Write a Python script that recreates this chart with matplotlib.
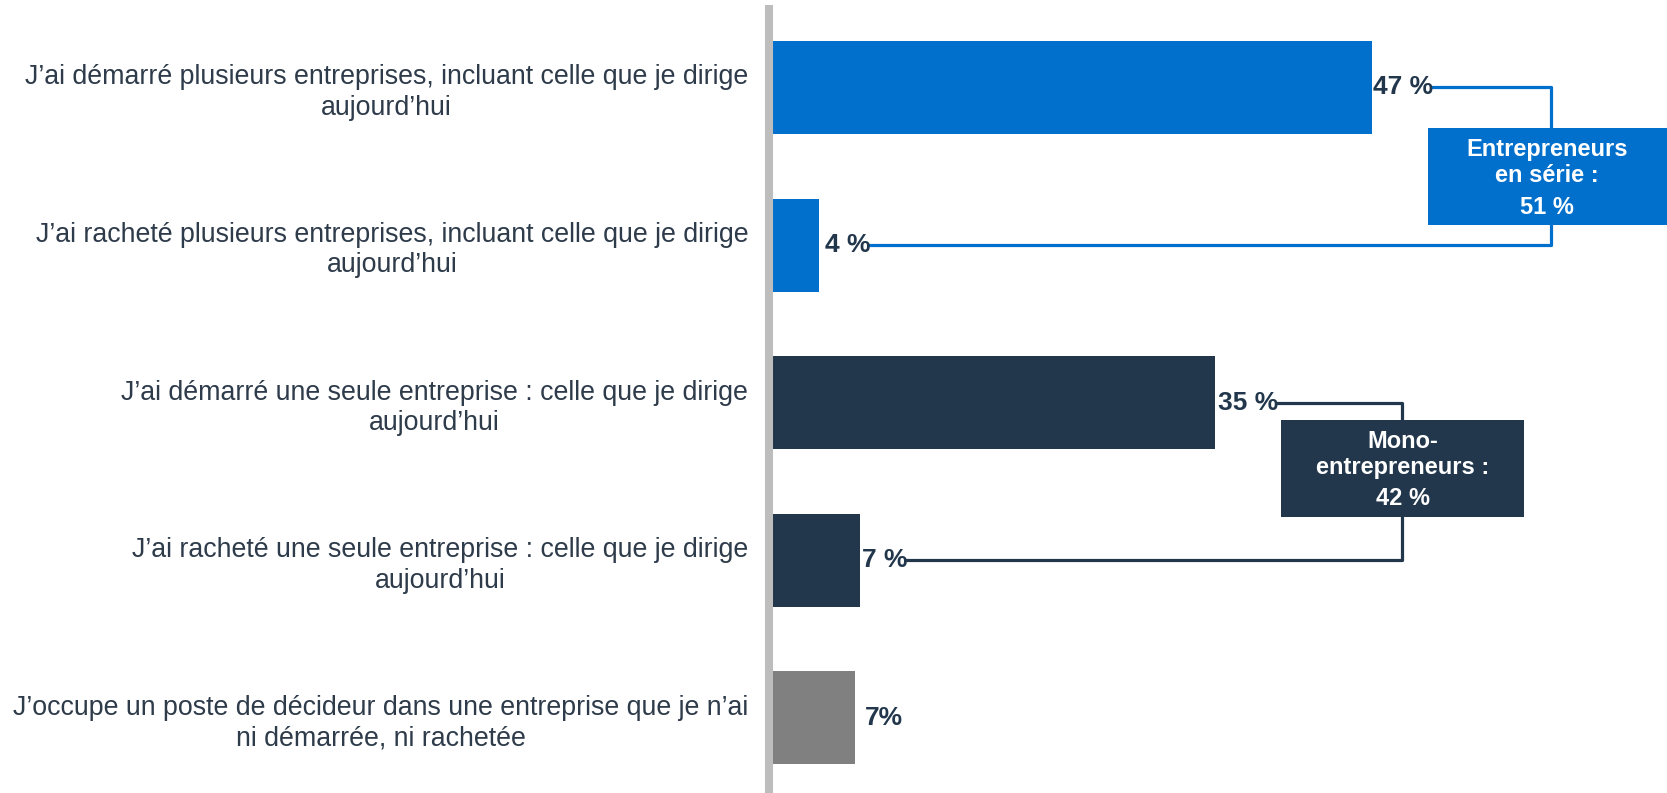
import matplotlib
matplotlib.use("Agg")
import matplotlib.pyplot as plt
from matplotlib.patches import Rectangle

plt.rcParams['font.family'] = ['Liberation Sans', 'DejaVu Sans']

# -----------------------
# Data
# -----------------------
categories = [
    "J\u2019ai démarré plusieurs entreprises, incluant celle que je dirige\naujourd\u2019hui",
    "J\u2019ai racheté plusieurs entreprises, incluant celle que je dirige\naujourd\u2019hui",
    "J\u2019ai démarré une seule entreprise : celle que je dirige\naujourd\u2019hui",
    "J\u2019ai racheté une seule entreprise : celle que je dirige\naujourd\u2019hui",
    "J\u2019occupe un poste de décideur dans une entreprise que je n\u2019ai\nni démarrée, ni rachetée",
]
values = [47.0, 3.6, 34.7, 6.8, 6.4]
value_labels = ["47 %", "4 %", "35 %", "7 %", "7%"]
group = ["serial", "serial", "mono", "mono", "other"]

group_title = {"serial": "Entrepreneurs\nen série :", "mono": "Mono-\nentrepreneurs :"}
group_total = {"serial": "51 %", "mono": "42 %"}

# -----------------------
# Styles
# -----------------------
BLUE = "#0070CC"
NAVY = "#22374C"
GREY = "#808080"
TEXT = "#2E3B4A"
colors = {"serial": BLUE, "mono": NAVY, "other": GREY}

# bracket x (data units), box extents (x0, x1, y0, y1), text y for title / total
bracket_x = {"serial": 61.1, "mono": 49.4}
box_ext = {"serial": (51.4, 70.5, 0.257, 0.872), "mono": (39.9, 59.0, 2.11, 2.725)}
text_y = {"serial": (0.475, 0.76), "mono": (2.33, 2.61)}
label_gap = [1, 6, 3, 2, 10]   # px gap between bar end and value label

W, H = 1667, 793
fig = plt.figure(figsize=(W / 100, H / 100), dpi=100)
ax = fig.add_axes([773 / W, 0, 1 - 773 / W, 1])

ypos = list(range(len(values)))
ax.barh(ypos, values, height=0.59, color=[colors[g] for g in group], zorder=2)

ax.set_xlim(0, 70.2)
ax.set_ylim(4.477, -0.555)

for s in ["top", "right", "bottom"]:
    ax.spines[s].set_visible(False)
ax.spines["left"].set_color("#BDBDBD")
ax.spines["left"].set_linewidth(5.8)
ax.spines["left"].set_position(("outward", 2.9))
ax.spines["left"].set_bounds(4.477, -0.498)
ax.set_xticks([])
ax.set_yticks(ypos)
ax.set_yticklabels(categories, fontsize=19.3, color=TEXT, multialignment="center",
                   linespacing=1.22)
ax.tick_params(axis="y", length=0, pad=15)

# value labels
val_texts = []
for y, v, lab, gap in zip(ypos, values, value_labels, label_gap):
    t = ax.annotate(lab, (v, y), xytext=(gap * 0.72, 0), textcoords="offset points",
                    ha="left", va="center", fontsize=19, fontweight="bold",
                    color=NAVY, zorder=3)
    val_texts.append(t)

fig.canvas.draw()
renderer = fig.canvas.get_renderer()
inv = ax.transData.inverted()

# brackets + summary boxes
for g in ["serial", "mono"]:
    idx = [i for i, gg in enumerate(group) if gg == g]
    i1, i2 = idx[0], idx[-1]
    bb1 = val_texts[i1].get_window_extent(renderer)
    bb2 = val_texts[i2].get_window_extent(renderer)
    x1 = inv.transform((bb1.x1, 0))[0]
    x2 = inv.transform((bb2.x1, 0))[0]
    bx = bracket_x[g]
    ax.plot([x1, bx, bx, x2], [i1, i1, i2, i2], color=colors[g], lw=2.3,
            solid_joinstyle="round", zorder=1, clip_on=False)
    x0, xe, y0, ye = box_ext[g]
    ax.add_patch(Rectangle((x0, y0), xe - x0, ye - y0, facecolor=colors[g],
                           edgecolor="none", zorder=4, clip_on=False))
    cx = (x0 + min(xe, 70.2)) / 2
    ax.text(cx, text_y[g][0], group_title[g], ha="center", va="center",
            fontsize=17, fontweight="bold", color="white", linespacing=1.2, zorder=5)
    ax.text(cx, text_y[g][1], group_total[g], ha="center", va="center",
            fontsize=17, fontweight="bold", color="white", zorder=5)

fig.savefig("out.png", dpi=100)
